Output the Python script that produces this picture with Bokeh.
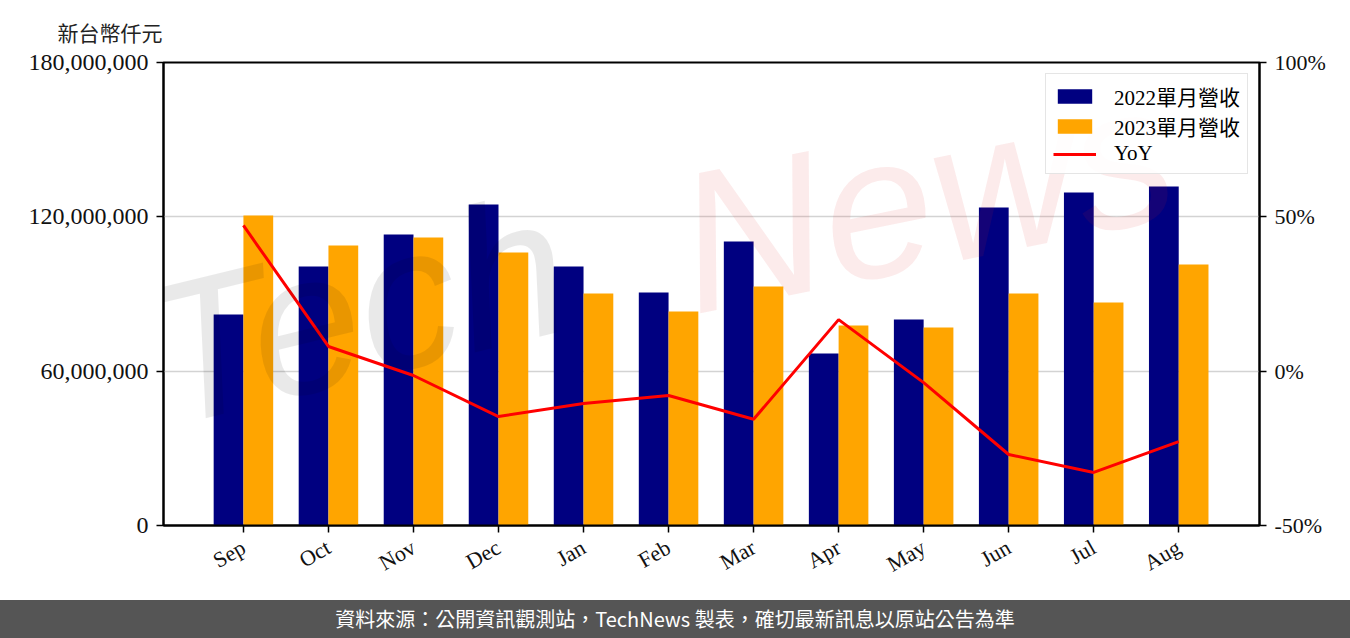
import math
from bokeh.plotting import figure
from bokeh.models import (Range1d, LinearAxis, FixedTicker, NumeralTickFormatter,
                          Legend, LegendItem, Label, Div, ColumnDataSource)
from bokeh.layouts import column
from bokeh.transform import dodge
from bokeh.embed import file_html
from bokeh.resources import INLINE

months = ["Sep", "Oct", "Nov", "Dec", "Jan", "Feb", "Mar", "Apr", "May", "Jun", "Jul", "Aug"]
rev_2022 = [82_000_000, 100_700_000, 113_100_000, 124_800_000, 100_700_000, 90_600_000,
            110_400_000, 66_900_000, 80_100_000, 123_600_000, 129_500_000, 131_800_000]
rev_2023 = [120_500_000, 108_900_000, 112_000_000, 106_100_000, 90_200_000, 83_200_000,
            92_900_000, 77_800_000, 77_000_000, 90_200_000, 86_700_000, 101_500_000]
yoy_pct = [47.2, 8.0, -1.4, -14.7, -10.5, -7.9, -15.6, 16.7, -3.7, -27.0, -32.8, -22.8]
left_ticks = [0, 60_000_000, 120_000_000, 180_000_000]
right_ticks = [-0.5, 0.0, 0.5, 1.0]

SERIF = "Liberation Serif, Noto Sans CJK TC"
CJK = "Noto Sans CJK TC"

xs = list(range(len(months)))
src = ColumnDataSource(dict(x=xs, r22=rev_2022, r23=rev_2023,
                            yoy=[v / 100 for v in yoy_pct]))

p = figure(width=1350, height=600, x_range=Range1d(-0.94, 11.95),
           y_range=Range1d(0, 180_000_000),
           min_border_left=163, min_border_right=91, min_border_top=62,
           min_border_bottom=75, output_backend="svg", toolbar_location=None)
p.extra_y_ranges = {"yoy": Range1d(-0.5, 1.0)}

r1 = p.vbar(x=dodge("x", -0.175, range=p.x_range), top="r22", width=0.35,
            source=src, fill_color="#000080", line_color=None)
r2 = p.vbar(x=dodge("x", 0.175, range=p.x_range), top="r23", width=0.35,
            source=src, fill_color="#FFA500", line_color=None)
r3 = p.line("x", "yoy", source=src, y_range_name="yoy", line_color="#FF0000",
            line_width=3)

# watermark
WM_FONT = "Liberation Sans"
p.add_layout(Label(x=-0.8, y=22_000_000, text="Tech", angle=0.24,
                   text_font_size="200px", text_font=WM_FONT,
                   text_font_style="italic", text_color="black", text_alpha=0.085))
p.add_layout(Label(x=5.4, y=66_000_000, text="News", angle=0.20,
                   text_font_size="200px", text_font=WM_FONT,
                   text_font_style="italic", text_color="#e02020", text_alpha=0.09))

# axes
p.xaxis.ticker = FixedTicker(ticks=xs)
p.xaxis.major_label_overrides = {i: m for i, m in zip(xs, months)}
p.xaxis.major_label_orientation = math.pi / 6
p.yaxis.ticker = FixedTicker(ticks=left_ticks)
p.yaxis.formatter = NumeralTickFormatter(format="0,0")

ax_r = LinearAxis(y_range_name="yoy", ticker=FixedTicker(ticks=right_ticks),
                  formatter=NumeralTickFormatter(format="0%"))
p.add_layout(ax_r, "right")

for ax in p.axis:
    ax.axis_line_color = "black"
    ax.axis_line_width = 2
    ax.major_tick_line_color = "black"
    ax.major_tick_line_width = 1.5
    ax.major_tick_out = 7
    ax.major_tick_in = 0
    ax.minor_tick_line_color = None
    ax.major_label_text_font = SERIF
    ax.major_label_text_font_size = "22px"
    ax.major_label_text_color = "#111111"
    ax.major_label_standoff = 8
p.yaxis[0].major_label_text_font_size = "24px"
p.xaxis.major_label_text_font_size = "22px"
p.xaxis.major_label_standoff = 13

p.xgrid.visible = False
p.ygrid.ticker = FixedTicker(ticks=left_ticks)
p.ygrid.grid_line_color = "#d3d3d3"
p.ygrid.grid_line_width = 1.5

p.outline_line_color = "black"
p.outline_line_width = 2
p.outline_line_alpha = 1

p.title.text = "新台幣仟元"
p.title.align = "left"
p.title.vertical_align = "top"
p.title.offset = -106
p.title.text_font = CJK
p.title.text_font_size = "21px"
p.title.text_font_style = "normal"
p.title.text_color = "#222222"
p.title.standoff = 28

legend = Legend(items=[LegendItem(label="2022單月營收", renderers=[r1]),
                       LegendItem(label="2023單月營收", renderers=[r2]),
                       LegendItem(label="YoY", renderers=[r3])],
                location="top_right")
legend.label_text_font = SERIF
legend.label_text_font_size = "21px"
legend.label_text_color = "#000000"
legend.glyph_width = 43
legend.glyph_height = 18
legend.label_standoff = 18
legend.label_height = 20
legend.spacing = 0
legend.padding = 7
legend.margin = 11
legend.border_line_color = "#cccccc"
legend.border_line_width = 1.5
legend.background_fill_alpha = 0.9
p.add_layout(legend)

footer = Div(text="資料來源：公開資訊觀測站，TechNews 製表，確切最新訊息以原站公告為準",
             width=1350, height=38, margin=0,
             styles={"background-color": "#555555", "color": "#ffffff",
                     "font-family": "'Noto Sans CJK TC', sans-serif",
                     "font-size": "20px", "text-align": "center",
                     "line-height": "38px"})

layout = column(p, footer)
open("out.html", "w").write(file_html(layout, INLINE))
